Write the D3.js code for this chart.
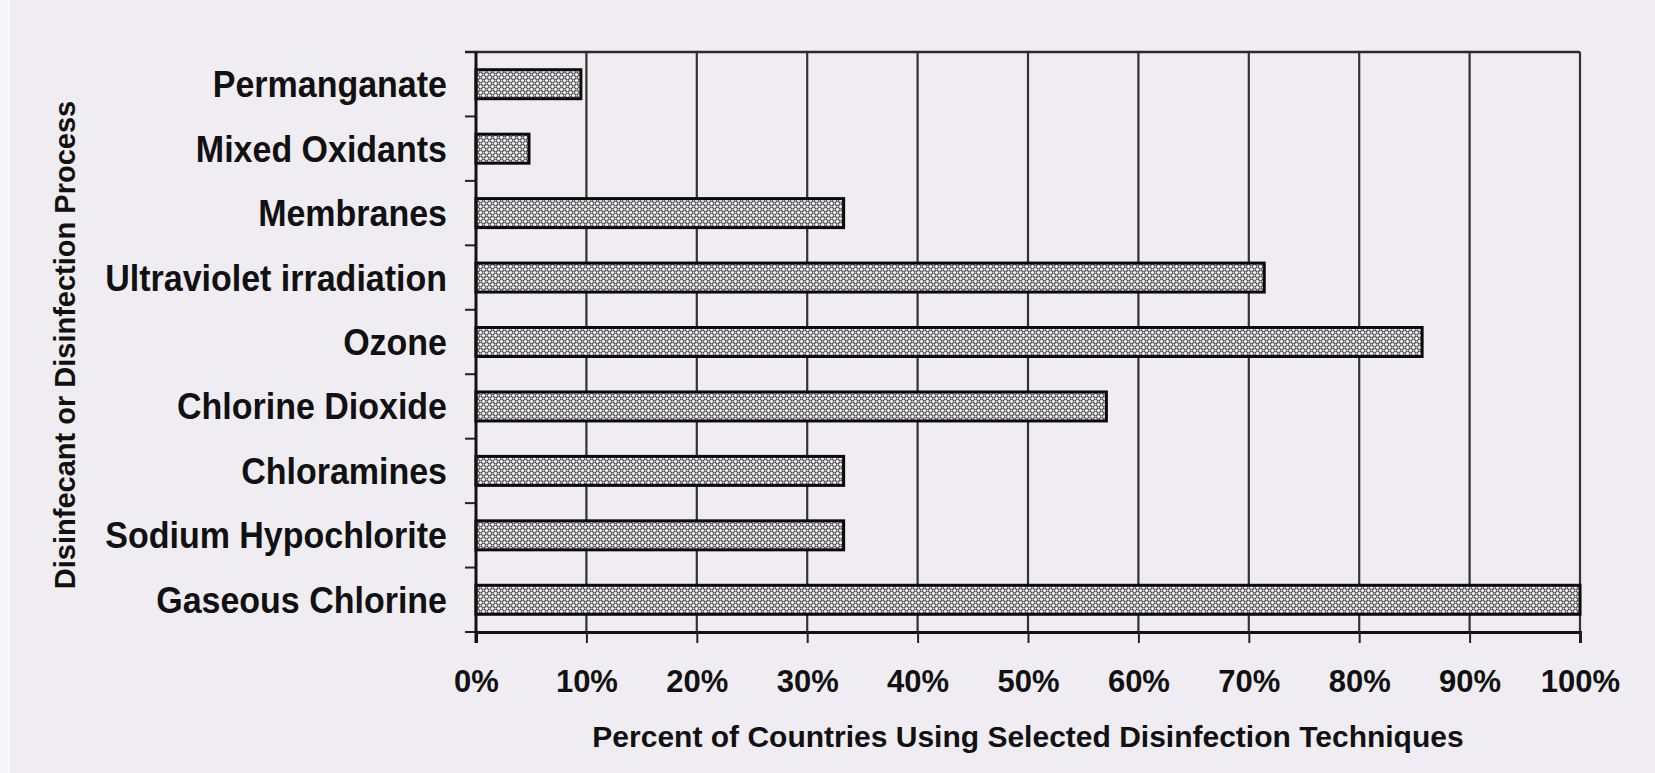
<!DOCTYPE html>
<html>
<head>
<meta charset="utf-8">
<script src="https://cdn.jsdelivr.net/npm/d3@7"></script>
<style>
  html, body { margin: 0; padding: 0; background: #efedf1; }
  svg { display: block; }
  text { font-family: "Liberation Sans", Arial, sans-serif; font-weight: bold; fill: #111; }
</style>
</head>
<body>
<svg id="chart" width="1655" height="773"></svg>
<script>
// Disinfection techniques, listed top to bottom
const categories = [
  "Permanganate",
  "Mixed Oxidants",
  "Membranes",
  "Ultraviolet irradiation",
  "Ozone",
  "Chlorine Dioxide",
  "Chloramines",
  "Sodium Hypochlorite",
  "Gaseous Chlorine"
];
// Percent of countries using each technique
const percentValues = [9.5, 4.8, 33.3, 71.4, 85.7, 57.1, 33.3, 33.3, 100];
const xTickValues = [0, 10, 20, 30, 40, 50, 60, 70, 80, 90, 100];
const xTitle = "Percent of Countries Using Selected Disinfection Techniques";
const yTitle = "Disinfecant or Disinfection Process";

const svg = d3.select("#chart");
const totalW = 1655, totalH = 773;
const margin = { top: 52, right: 75, bottom: 141, left: 476 };
const W = totalW - margin.left - margin.right;
const H = totalH - margin.top - margin.bottom;

// page background with the lighter strip at the left edge
svg.append("rect").attr("width", totalW).attr("height", totalH).attr("fill", "#efedf1");
svg.append("rect").attr("width", 10).attr("height", totalH).attr("fill", "#f7f6f9");

// dotted fill for the bars
const defs = svg.append("defs");
const pat = defs.append("pattern")
  .attr("id", "dots").attr("patternUnits", "userSpaceOnUse")
  .attr("width", 6).attr("height", 6);
pat.append("rect").attr("width", 6).attr("height", 6).attr("fill", "#4a4a4a");
[[1.5, 1.5], [4.5, 4.5], [4.5, 1.5], [1.5, 4.5]].forEach(([cx, cy], i) => {
  pat.append("circle").attr("cx", cx).attr("cy", cy)
    .attr("r", i < 2 ? 1.55 : 1.0)
    .attr("fill", i < 2 ? "#f2f2f2" : "#cfcfcf");
});

const g = svg.append("g").attr("transform", `translate(${margin.left},${margin.top})`);

const x = d3.scaleLinear().domain([0, 100]).range([0, W]);
const y = d3.scaleBand().domain(categories).range([0, H])
  .paddingInner(0.55).paddingOuter(0.275);

// vertical gridlines
g.append("g").selectAll("line")
  .data(xTickValues.filter(d => d > 0))
  .join("line")
  .attr("x1", d => x(d)).attr("x2", d => x(d))
  .attr("y1", 0).attr("y2", H)
  .attr("stroke", "#333").attr("stroke-width", 2.2);

// top border of the plot area
g.append("line").attr("x1", -11).attr("x2", W).attr("y1", 0).attr("y2", 0)
  .attr("stroke", "#2a2a2a").attr("stroke-width", 2.5);

// bars
g.append("g").selectAll("rect")
  .data(categories)
  .join("rect")
  .attr("x", x(0))
  .attr("y", d => y(d))
  .attr("width", (d, i) => x(percentValues[i]) - x(0))
  .attr("height", y.bandwidth())
  .attr("fill", "url(#dots)")
  .attr("stroke", "#0a0a0a").attr("stroke-width", 3);

// x axis
const xAxis = d3.axisBottom(x)
  .tickValues(xTickValues)
  .tickSize(11)
  .tickFormat(d => d + "%");
const xg = g.append("g").attr("transform", `translate(0,${H})`).call(xAxis);
xg.select(".domain").attr("stroke", "#111").attr("stroke-width", 3);
xg.selectAll(".tick line").attr("stroke", "#222").attr("stroke-width", 2);
xg.selectAll(".tick text")
  .attr("y", 38).attr("dy", "0.71em")
  .style("font-size", "31px").style("font-family", "'Liberation Sans', Arial, sans-serif")
  .style("font-weight", "bold").attr("fill", "#111");

// y axis: ticks sit on the boundaries between categories
const step = y.step();
const boundaries = d3.range(categories.length + 1).map(k => k * step);
g.append("g").selectAll("line")
  .data(boundaries)
  .join("line")
  .attr("x1", -11).attr("x2", 0)
  .attr("y1", d => d).attr("y2", d => d)
  .attr("stroke", "#222").attr("stroke-width", 2);
g.append("line").attr("x1", 0).attr("x2", 0).attr("y1", 0).attr("y2", H + 11)
  .attr("stroke", "#111").attr("stroke-width", 3);

// category labels, drawn slightly taller than wide
g.append("g").selectAll("text")
  .data(categories)
  .join("text")
  .attr("transform", d => `translate(-29,${y(d) + y.bandwidth() / 2}) scale(1,1.06)`)
  .attr("dy", "0.36em")
  .attr("text-anchor", "end")
  .style("font-size", "34px")
  .text(d => d);

// axis titles
svg.append("text")
  .attr("x", margin.left + W / 2).attr("y", 747)
  .attr("text-anchor", "middle")
  .style("font-size", "30px")
  .text(xTitle);

svg.append("text")
  .attr("transform", "translate(75,345) rotate(-90)")
  .attr("text-anchor", "middle")
  .style("font-size", "29px")
  .text(yTitle);
</script>
</body>
</html>
